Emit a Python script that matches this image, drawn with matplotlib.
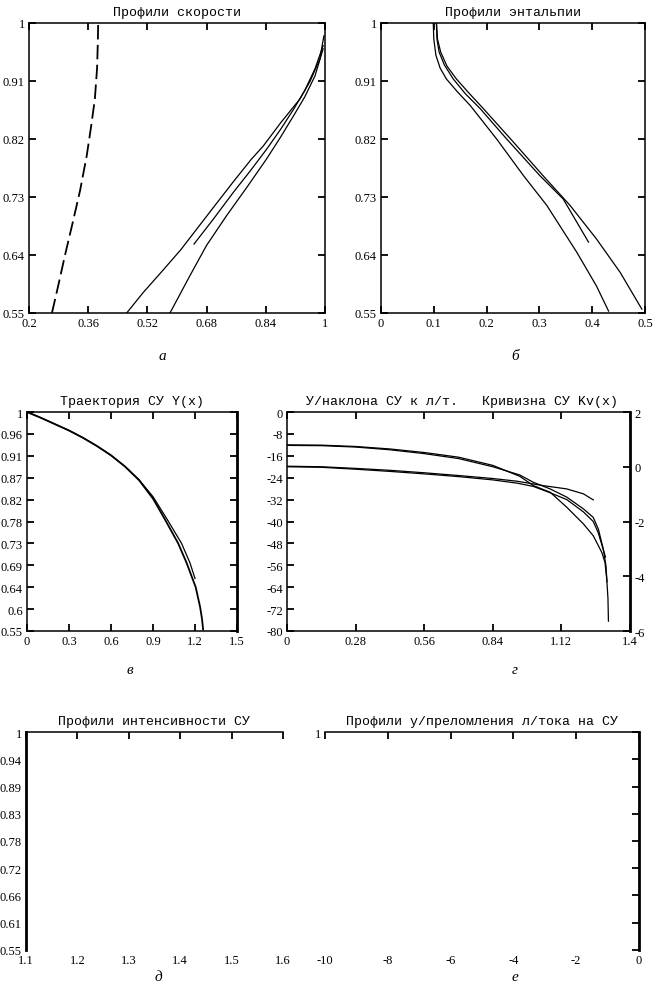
import numpy as np
import matplotlib
matplotlib.use("Agg")
import matplotlib.pyplot as plt

# --- panel a: velocity profiles
vel_dash_x = [0.262, 0.280, 0.297, 0.318, 0.338, 0.356, 0.368, 0.378, 0.384, 0.386, 0.387]
vel_dash_y = [0.55, 0.595, 0.639, 0.69, 0.74, 0.794, 0.84, 0.882, 0.93, 0.97, 1.0]
vel1_x = [0.464, 0.509, 0.56, 0.61, 0.653, 0.70, 0.75, 0.80, 0.833, 0.88, 0.932, 0.96, 0.986, 0.997]
vel1_y = [0.55, 0.582, 0.615, 0.648, 0.680, 0.715, 0.752, 0.788, 0.809, 0.845, 0.882, 0.91, 0.944, 0.980]
vel2_x = [0.646, 0.70, 0.752, 0.80, 0.842, 0.88, 0.915, 0.945, 0.973, 0.995]
vel2_y = [0.657, 0.697, 0.737, 0.772, 0.804, 0.835, 0.866, 0.895, 0.929, 0.965]
vel3_x = [0.581, 0.635, 0.68, 0.734, 0.79, 0.842, 0.88, 0.915, 0.945, 0.973, 0.995]
vel3_y = [0.55, 0.608, 0.655, 0.701, 0.746, 0.789, 0.823, 0.856, 0.885, 0.918, 0.96]

# --- panel b: enthalpy profiles
ent1_x = [0.099, 0.100, 0.104, 0.112, 0.124, 0.145, 0.169, 0.219, 0.270, 0.314, 0.371, 0.408, 0.431]
ent1_y = [1.0, 0.975, 0.95, 0.93, 0.913, 0.893, 0.872, 0.820, 0.763, 0.717, 0.644, 0.592, 0.553]
ent2_x = [0.105, 0.106, 0.110, 0.120, 0.137, 0.160, 0.188, 0.238, 0.301, 0.345, 0.393]
ent2_y = [1.0, 0.975, 0.955, 0.935, 0.913, 0.890, 0.867, 0.820, 0.763, 0.727, 0.660]
ent3_x = [0.105, 0.107, 0.113, 0.125, 0.143, 0.168, 0.194, 0.251, 0.307, 0.358, 0.408, 0.453, 0.494]
ent3_y = [1.0, 0.975, 0.955, 0.933, 0.913, 0.890, 0.867, 0.815, 0.763, 0.717, 0.665, 0.613, 0.556]

# --- panel v: shock trajectory Y(x)
traj1_x = [0, 0.1, 0.2, 0.3, 0.4, 0.5, 0.6, 0.7, 0.8, 0.9, 0.984, 1.08, 1.14, 1.205, 1.236, 1.25, 1.258]
traj1_y = [1, 0.988, 0.975, 0.962, 0.947, 0.930, 0.911, 0.888, 0.860, 0.822, 0.780, 0.730, 0.690, 0.640, 0.600, 0.575, 0.553]
traj2_x = [0, 0.1, 0.2, 0.3, 0.4, 0.5, 0.6, 0.7, 0.8, 0.9, 1.0, 1.104, 1.164, 1.20]
traj2_y = [1, 0.988, 0.975, 0.962, 0.947, 0.930, 0.911, 0.888, 0.861, 0.826, 0.780, 0.730, 0.690, 0.658]

# --- panel g: slope angle (left axis) and curvature (right axis)
ang1_x = [0, 0.14, 0.28, 0.42, 0.56, 0.70, 0.84, 0.95, 1.006, 1.074, 1.142, 1.21, 1.25, 1.285, 1.298, 1.305, 1.31, 1.312]
ang1_y = [-12.0, -12.1, -12.6, -13.5, -14.8, -16.5, -19.5, -23.5, -26.9, -29.3, -34.8, -40.9, -45.2, -51.3, -55, -61, -68, -76.4]
ang2_x = [0, 0.14, 0.28, 0.42, 0.56, 0.70, 0.84, 0.95, 1.006, 1.074, 1.142, 1.21, 1.25, 1.271, 1.291, 1.302, 1.306]
ang2_y = [-12.2, -12.3, -12.8, -13.8, -15.2, -17.0, -20.0, -23.0, -25.7, -28.1, -31.1, -35.4, -38.5, -42.8, -50.1, -56.2, -62.0]
kv1_x = [0, 0.14, 0.28, 0.42, 0.56, 0.70, 0.84, 0.94, 1.046, 1.142, 1.21, 1.25]
kv1_y = [0.02, 0.0, -0.06, -0.13, -0.22, -0.32, -0.43, -0.53, -0.69, -0.81, -0.99, -1.21]
kv2_x = [0, 0.14, 0.28, 0.42, 0.56, 0.70, 0.84, 0.94, 1.006, 1.074, 1.142, 1.21, 1.25, 1.27, 1.29, 1.30]
kv2_y = [0.0, -0.02, -0.09, -0.17, -0.26, -0.36, -0.48, -0.6, -0.72, -0.95, -1.2, -1.65, -2.0, -2.4, -3.0, -3.3]

# tick labels
a_xticks = [0.2, 0.36, 0.52, 0.68, 0.84, 1.0]
a_xlabels = ["0.2", "0.36", "0.52", "0.68", "0.84", "1"]
ab_yticks = [0.55, 0.64, 0.73, 0.82, 0.91, 1.0]
ab_ylabels = ["0.55", "0.64", "0.73", "0.82", "0.91", "1"]
b_xticks = [0, 0.1, 0.2, 0.3, 0.4, 0.5]
b_xlabels = ["0", "0.1", "0.2", "0.3", "0.4", "0.5"]
v_xticks = [0, 0.3, 0.6, 0.9, 1.2, 1.5]
v_xlabels = ["0", "0.3", "0.6", "0.9", "1.2", "1.5"]
v_ylabels = ["1", "0.96", "0.91", "0.87", "0.82", "0.78", "0.73", "0.69", "0.64", "0.6", "0.55"]
g_xticks = [0, 0.28, 0.56, 0.84, 1.12, 1.4]
g_xlabels = ["0", "0.28", "0.56", "0.84", "1.12", "1.4"]
g_yticks = [0, -8, -16, -24, -32, -40, -48, -56, -64, -72, -80]
g_rticks = [2, 0, -2, -4, -6]
d_xticks = [1.1, 1.2, 1.3, 1.4, 1.5, 1.6]
d_xlabels = ["1.1", "1.2", "1.3", "1.4", "1.5", "1.6"]
d_ylabels = ["1", "0.94", "0.89", "0.83", "0.78", "0.72", "0.66", "0.61", "0.55"]
e_xticks = [-10, -8, -6, -4, -2, 0]
e_xlabels = ["-10", "-8", "-6", "-4", "-2", "0"]

TICK_FONT = "Liberation Serif"
TITLE_FONT = "Liberation Mono"
LW = 0.9
TS = 9

W, H = 658, 987
fig = plt.figure(figsize=(W / 100, H / 100), dpi=100)


def box(x0, y0, x1, y1):
    return [x0 / W, 1 - y1 / H, (x1 - x0) / W, (y1 - y0) / H]


def style(ax, title, sides=("left", "right", "top", "bottom")):
    for s in ("left", "right", "top", "bottom"):
        ax.spines[s].set_visible(s in sides)
        ax.spines[s].set_linewidth(1.1)
    ax.tick_params(direction="in", length=5, width=1.3, labelsize=TS, pad=3,
                   left="left" in sides, right="right" in sides,
                   top="top" in sides, bottom="bottom" in sides)
    for lab in ax.get_xticklabels() + ax.get_yticklabels():
        lab.set_fontfamily(TICK_FONT)
    ax.set_title(title, fontfamily=TITLE_FONT, fontsize=9.5, pad=6)


def sub_label(x, y, s):
    fig.text(x / W, 1 - y / H, s, fontfamily=TICK_FONT, style="italic",
             fontsize=11, ha="center", va="center")


# panel a
ax = fig.add_axes(box(29, 24, 325, 314))
ax.plot(vel_dash_x, vel_dash_y, color="k", lw=1.3, dashes=(8, 3))
ax.plot(vel1_x, vel1_y, color="k", lw=LW)
ax.plot(vel2_x, vel2_y, color="k", lw=LW)
ax.plot(vel3_x, vel3_y, color="k", lw=LW)
ax.set_xlim(0.2, 1.0)
ax.set_ylim(0.55, 1.0)
ax.set_xticks(a_xticks, a_xlabels)
ax.set_yticks(ab_yticks, ab_ylabels)
style(ax, "Профили скорости")
sub_label(162, 356, "а")

# panel b
ax = fig.add_axes(box(381, 24, 645, 314))
ax.plot(ent1_x, ent1_y, color="k", lw=LW)
ax.plot(ent2_x, ent2_y, color="k", lw=LW)
ax.plot(ent3_x, ent3_y, color="k", lw=LW)
ax.set_xlim(0, 0.5)
ax.set_ylim(0.55, 1.0)
ax.set_xticks(b_xticks, b_xlabels)
ax.set_yticks(ab_yticks, ab_ylabels)
style(ax, "Профили энтальпии")
sub_label(515, 356, "б")

# panel v
ax = fig.add_axes(box(27, 413, 237, 632))
ax.plot(traj1_x, traj1_y, color="k", lw=1.3)
ax.plot(traj2_x, traj2_y, color="k", lw=LW)
ax.set_xlim(0, 1.5)
ax.set_ylim(0.55, 1.0)
ax.set_xticks(v_xticks, v_xlabels)
ax.set_yticks(np.linspace(1.0, 0.55, len(v_ylabels)), v_ylabels)
style(ax, "Траектория СУ Y(x)")
ax.spines["right"].set_linewidth(2)
sub_label(130, 671, "в")

# panel g
ax = fig.add_axes(box(287, 413, 630, 632))
ax.plot(ang1_x, ang1_y, color="k", lw=LW)
ax.plot(ang2_x, ang2_y, color="k", lw=LW)
ax.set_xlim(0, 1.4)
ax.set_ylim(-80, 0)
ax.set_xticks(g_xticks, g_xlabels)
ax.set_yticks(g_yticks, [str(v) for v in g_yticks])
style(ax, "У/наклона СУ к л/т.   Кривизна СУ Kv(x)", sides=("left", "top", "bottom"))
ax.title.set_x(0.51)
axr = ax.twinx()
axr.plot(kv1_x, kv1_y, color="k", lw=LW)
axr.plot(kv2_x, kv2_y, color="k", lw=LW)
axr.set_ylim(-6, 2)
axr.set_yticks(g_rticks, [str(v) for v in g_rticks])
for s in ("left", "top", "bottom"):
    axr.spines[s].set_visible(False)
axr.spines["right"].set_linewidth(2)
axr.tick_params(direction="in", length=5, width=1.3, labelsize=TS, pad=3)
for lab in axr.get_yticklabels():
    lab.set_fontfamily(TICK_FONT)
sub_label(515, 671, "г")

# panel d (empty)
ax = fig.add_axes(box(26, 733, 283, 951))
ax.set_xlim(1.1, 1.6)
ax.set_ylim(0.55, 1.0)
ax.set_xticks(d_xticks, d_xlabels)
ax.set_yticks(np.linspace(1.0, 0.55, len(d_ylabels)), d_ylabels)
style(ax, "Профили интенсивности СУ", sides=("left", "top"))
ax.tick_params(labelbottom=True, left=False)
ax.spines["left"].set_linewidth(2)
sub_label(158, 978, "д")

# panel e (empty)
ax = fig.add_axes(box(325, 733, 639, 951))
ax.set_xlim(-10, 0)
ax.set_ylim(0.55, 1.0)
ax.set_xticks(e_xticks, e_xlabels)
e_yt = np.linspace(1.0, 0.55, 9)
ax.set_yticks(e_yt, ["1"] + [""] * 8)
style(ax, "Профили у/преломления л/тока на СУ", sides=("right", "top"))
ax.tick_params(labelbottom=True, labelleft=True, left=False)
ax.spines["right"].set_linewidth(2)
sub_label(515, 978, "е")

fig.savefig("out.png", dpi=100)
